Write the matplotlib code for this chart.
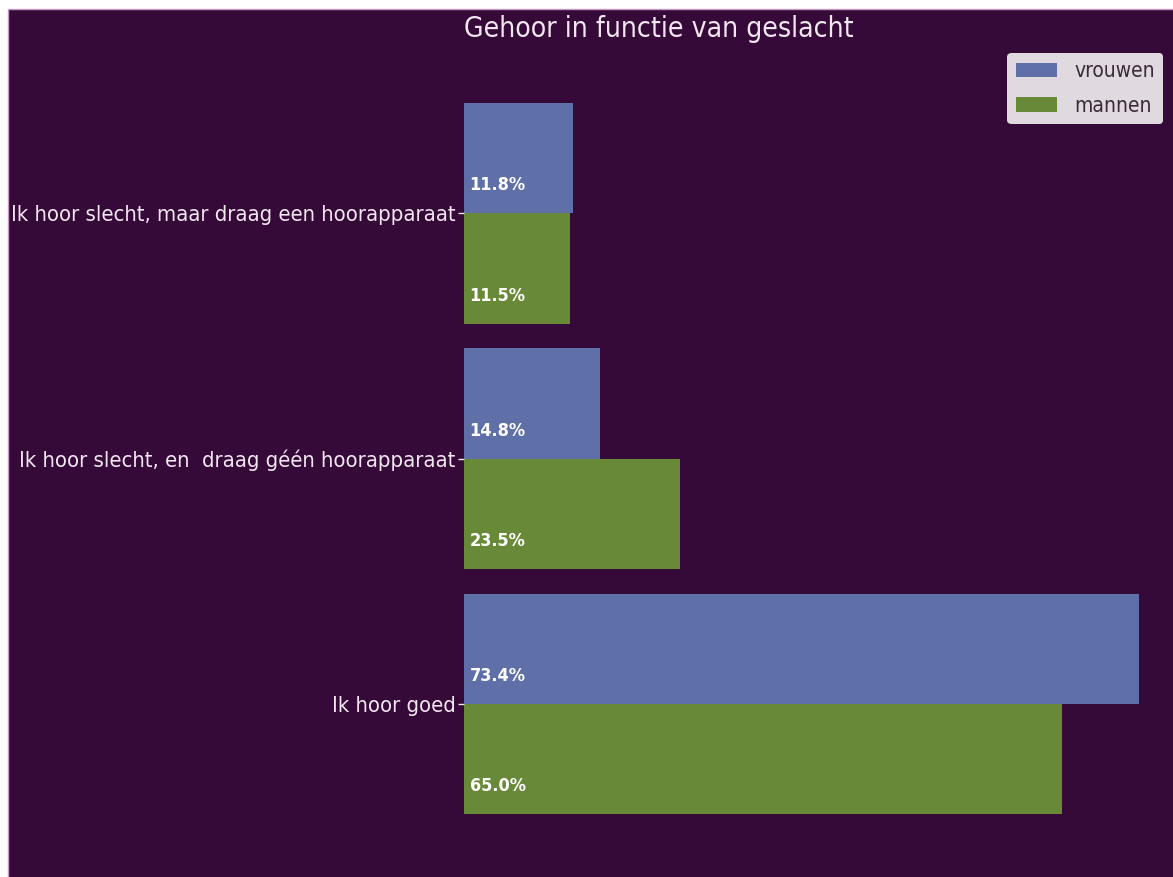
import numpy as np
import matplotlib.pyplot as plt
from matplotlib.patches import Rectangle


#(0) Data:
categories = ['Ik hoor goed',
              'Ik hoor slecht, en  draag géén hoorapparaat',
              'Ik hoor slecht, maar draag een hoorapparaat']
vrouwen    = [73.4, 14.8, 11.8]
mannen     = [65.0, 23.5, 11.5]
series     = ['vrouwen', 'mannen']


#(1) Style:
bg       = '#360a38'
c_blue   = '#5f6fa8'
c_green  = '#688a38'
c_text   = '#f2e6f0'
plt.rcParams['font.family']  = ['DejaVu Sans']
stretch  = 'condensed'


#(2) Figure:
W, H = 1173, 877
fig  = plt.figure(figsize=(W/100, H/100), dpi=100, facecolor='white')
fig.patches.append(Rectangle((8/W, -0.1), 1.2, 1.1 - 9/H, transform=fig.transFigure,
                             facecolor=bg, edgecolor='#c79ac6', lw=1.0, zorder=-10))

ax = fig.add_axes([464/W, 27/H, 1 - 464/W, (850 - 67)/H])
ax.set_facecolor('none')

y  = np.arange(len(categories))
w  = 0.45
b1 = ax.barh(y + w/2, vrouwen, height=w, color=c_blue, label=series[0])
b2 = ax.barh(y - w/2, mannen,  height=w, color=c_green, label=series[1])

for bars, vals in [(b1, vrouwen), (b2, mannen)]:
    for p, v in zip(bars, vals):
        ax.text(0.6, p.get_y() + 0.114, '%.1f%%' % v, color='white', fontsize=13,
                fontweight='bold', fontstretch=stretch, ha='left', va='center')

ax.set_yticks(y)
ax.set_yticklabels(categories, fontsize=15.8, color=c_text, fontstretch=stretch)
ax.tick_params(axis='y', colors=c_text, length=4, width=1, pad=2)
ax.set_xticks([])
for s in ax.spines.values():
    s.set_visible(False)

fig.text(659/W, 1 - 29/H, 'Gehoor in functie van geslacht', ha='center', va='center',
         fontsize=20.3, color=c_text, fontstretch=stretch)

leg = ax.legend(loc='upper right', bbox_to_anchor=(1163/W, 1 - 53/H), bbox_transform=fig.transFigure,
                borderaxespad=0, facecolor='white', framealpha=0.85, labelspacing=0.7,
                edgecolor='none', prop={'size': 15, 'stretch': stretch})
for t in leg.get_texts():
    t.set_color('#3a2a3a')

plt.savefig('out.png', dpi=100, facecolor=fig.get_facecolor())
